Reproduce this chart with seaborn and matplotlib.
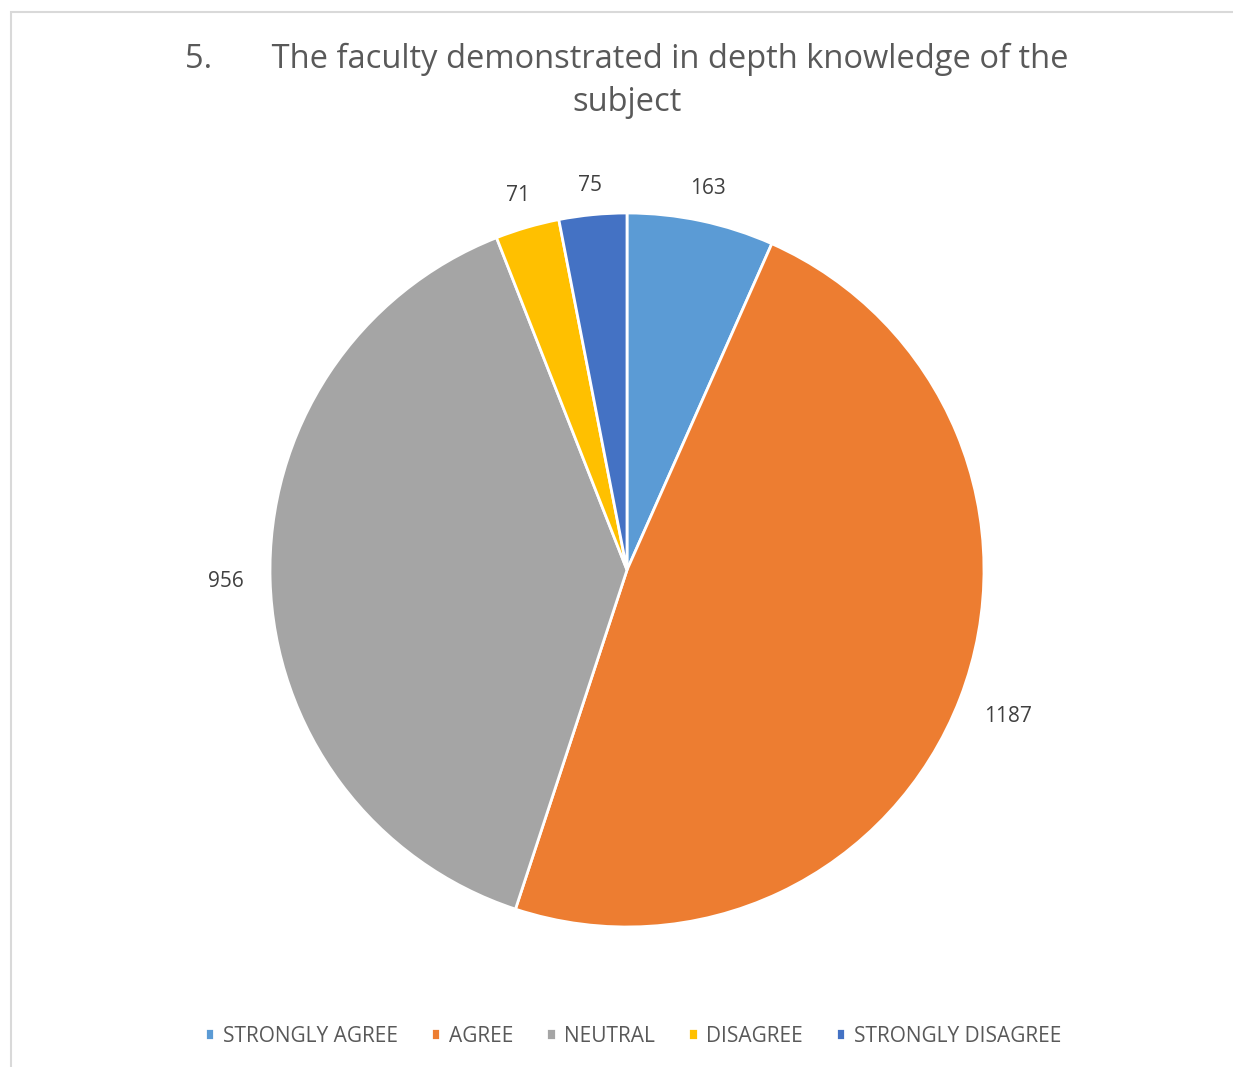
import numpy as np
import matplotlib.pyplot as plt
import matplotlib.patches as mpatches
import seaborn as sns

sns.set_theme(style="white")
plt.rcParams['font.family'] = ['Open Sans', 'DejaVu Sans']

categories = ["STRONGLY AGREE", "AGREE", "NEUTRAL", "DISAGREE", "STRONGLY DISAGREE"]
counts = [163, 1187, 956, 71, 75]
colors = sns.color_palette(["#5b9bd5", "#ed7d31", "#a5a5a5", "#ffc000", "#4472c4"])
title = "5.       The faculty demonstrated in depth knowledge of the\nsubject"

W, H = 1233, 1067
fig = plt.figure(figsize=(W / 100, H / 100), dpi=100)

# pie centre / radius in pixels
cx, cy, r = 627, 570, 357
ax = fig.add_axes([(cx - r) / W, (H - cy - r) / H, 2 * r / W, 2 * r / H])

wedges, _ = ax.pie(counts, colors=colors, startangle=90, counterclock=False,
                   wedgeprops=dict(edgecolor="white", linewidth=2))
ax.set_xlim(-1, 1)
ax.set_ylim(-1, 1)
ax.set_aspect("equal")
ax.axis("off")

# outside-end data labels: box edge sits a fixed gap outside the rim
fig.canvas.draw()
renderer = fig.canvas.get_renderer()
gap = 17  # px
for w, v in zip(wedges, counts):
    ang = np.deg2rad((w.theta1 + w.theta2) / 2)
    t = ax.text(0, 0, str(v), ha="center", va="center", fontsize=15, color="#404040")
    bb = t.get_window_extent(renderer)
    hw, hh = bb.width / 2 + 9, bb.height / 2
    ext = abs(np.cos(ang)) * hw + abs(np.sin(ang)) * hh
    d = 1 + (gap + ext) / r
    t.set_position((d * np.cos(ang), d * np.sin(ang)))

fig.text(cx / W, 1 - 81 / H, title, ha="center", va="center", fontsize=23.5,
         color="#595959", linespacing=1.42)

leg = fig.legend(wedges, categories, loc="center", bbox_to_anchor=(633 / W, 1 - 1036 / H),
                 ncol=5, frameon=False, fontsize=15, handlelength=0.45, handleheight=0.45,
                 handletextpad=0.4, columnspacing=1.6)
for t in leg.get_texts():
    t.set_color("#595959")

# light chart border
fig.patches.append(mpatches.Rectangle((10.5 / W, -0.1), 2, (H - 11.5) / H + 0.1,
                                      transform=fig.transFigure, fill=False,
                                      edgecolor="#d9d9d9", linewidth=1.5))

fig.savefig("out.png", dpi=100, facecolor="white")
